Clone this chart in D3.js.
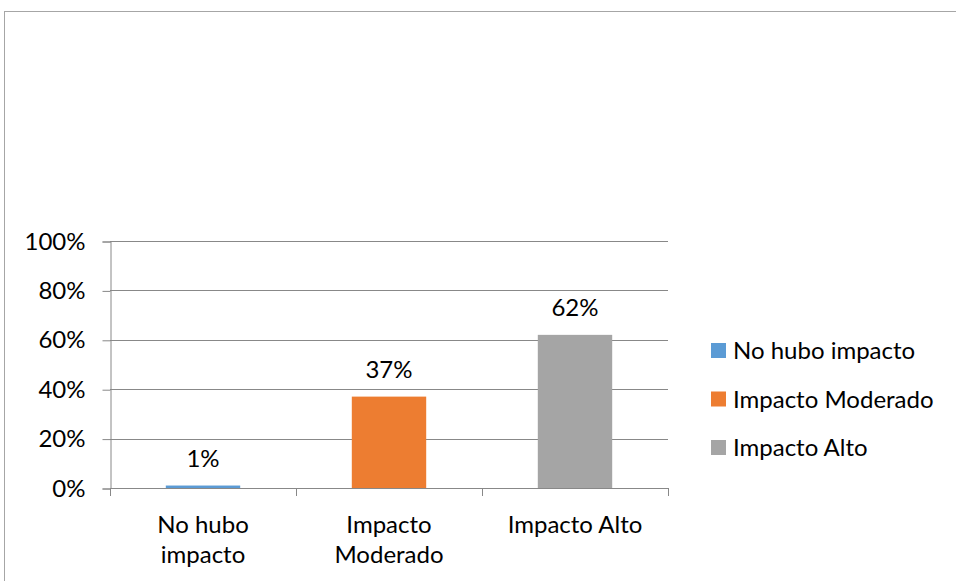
<!DOCTYPE html>
<html>
<head>
<meta charset="utf-8">
<script src="https://cdn.jsdelivr.net/npm/d3@7"></script>
<style>
  html, body { margin: 0; padding: 0; background: #fff; }
  svg { display: block; }
  text { font-family: Lato, "Open Sans", sans-serif; fill: #000; }
</style>
</head>
<body>
<svg id="chart" width="956" height="581"></svg>
<script>
const categories = ["No hubo impacto", "Impacto Moderado", "Impacto Alto"];
const categoryLines = [["No hubo", "impacto"], ["Impacto", "Moderado"], ["Impacto Alto"]];
const values = [0.01, 0.37, 0.62];
const valueLabels = ["1%", "37%", "62%"];
const colors = ["#5B9BD5", "#ED7D31", "#A5A5A5"];
const yTicks = [0, 0.2, 0.4, 0.6, 0.8, 1.0];

(function () {
const svg = d3.select("#chart");
const fontSize = 24;

// outer chart border
svg.append("rect")
  .attr("x", 4.5).attr("y", 11.5)
  .attr("width", 1000).attr("height", 700)
  .attr("fill", "none").attr("stroke", "#a6a6a6").attr("stroke-width", 1);

const pLeft = 110, pRight = 668, pTop = 241, pBottom = 488;

const x = d3.scaleBand().domain(categories).range([pLeft, pRight])
  .paddingInner(0.6).paddingOuter(0.3);
const y = d3.scaleLinear().domain([0, 1]).range([pBottom, pTop]);

// gridlines
svg.append("g").selectAll("line").data(yTicks.filter(d => d > 0)).join("line")
  .attr("x1", pLeft).attr("x2", pRight)
  .attr("y1", d => Math.round(y(d)) + 0.5).attr("y2", d => Math.round(y(d)) + 0.5)
  .attr("stroke", "#888").attr("stroke-width", 1);

// y axis
const yAxis = d3.axisLeft(y).tickValues(yTicks).tickFormat(d3.format(".0%")).tickSize(8).tickPadding(17);
const gy = svg.append("g").attr("transform", `translate(${pLeft + 0.5},0.5)`).call(yAxis);
gy.select(".domain").attr("stroke", "#888");
gy.selectAll(".tick line").attr("stroke", "#888");
gy.selectAll(".tick text").attr("font-size", fontSize).attr("font-family", "Lato, 'Open Sans', sans-serif").attr("fill", "#000");

// x axis baseline and ticks
const xTickPos = d3.range(categories.length + 1).map(i => pLeft + i * x.step());
svg.append("line").attr("x1", pLeft).attr("x2", pRight)
  .attr("y1", pBottom + 0.5).attr("y2", pBottom + 0.5).attr("stroke", "#888");
svg.append("g").selectAll("line").data(xTickPos).join("line")
  .attr("x1", d => Math.round(d) + 0.5).attr("x2", d => Math.round(d) + 0.5)
  .attr("y1", pBottom).attr("y2", pBottom + 8).attr("stroke", "#888");

// bars
svg.append("g").selectAll("rect").data(categories).join("rect")
  .attr("x", d => x(d))
  .attr("width", x.bandwidth())
  .attr("y", (d, i) => y(values[i]))
  .attr("height", (d, i) => pBottom - y(values[i]))
  .attr("fill", (d, i) => colors[i]);

// data labels
svg.append("g").selectAll("text").data(categories).join("text")
  .attr("x", d => x(d) + x.bandwidth() / 2)
  .attr("y", (d, i) => y(values[i]) - 19)
  .attr("text-anchor", "middle")
  .attr("font-size", fontSize)
  .text((d, i) => valueLabels[i]);

// category labels
const cl = svg.append("g").selectAll("text").data(categories).join("text")
  .attr("x", d => x(d) + x.bandwidth() / 2)
  .attr("y", 533)
  .attr("text-anchor", "middle")
  .attr("font-size", fontSize);
cl.each(function (d, i) {
  const t = d3.select(this);
  categoryLines[i].forEach((line, j) => {
    t.append("tspan").attr("x", t.attr("x")).attr("dy", j === 0 ? 0 : 30).text(line);
  });
});

// legend
const legend = svg.append("g").selectAll("g").data(categories).join("g")
  .attr("transform", (d, i) => `translate(711, ${351 + i * 48.5})`);
legend.append("rect").attr("x", 0).attr("y", -8).attr("width", 15).attr("height", 15)
  .attr("fill", (d, i) => colors[i]);
legend.append("text").attr("x", 22).attr("y", 0).attr("dy", "0.35em")
  .attr("font-size", fontSize).text(d => d);
})();
</script>
</body>
</html>
